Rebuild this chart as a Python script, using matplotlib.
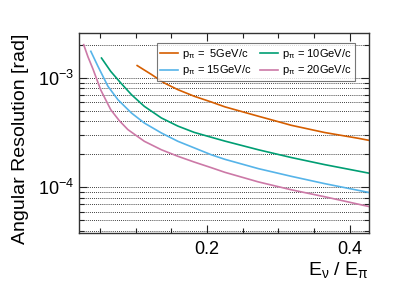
import matplotlib
matplotlib.use("Agg")
import matplotlib.pyplot as plt
import matplotlib.ticker as ticker

plt.rcParams['font.family'] = ['Liberation Sans', 'DejaVu Sans']
plt.rcParams['mathtext.fontset'] = 'custom'
plt.rcParams['mathtext.rm'] = 'Liberation Sans'
plt.rcParams['mathtext.it'] = 'Liberation Sans'
plt.rcParams['mathtext.default'] = 'regular'

# ratio E_nu / E_pi and angular resolution [rad]
x_5 = [0.102, 0.122, 0.140, 0.159, 0.182, 0.206, 0.225, 0.272, 0.295, 0.318, 0.365, 0.412, 0.426]
y_5 = [1.29e-3, 1.07e-3, 8.95e-4, 7.78e-4, 6.77e-4, 6.0e-4, 5.42e-4, 4.45e-4, 4.05e-4, 3.68e-4, 3.16e-4, 2.80e-4, 2.69e-4]

x_10 = [0.052, 0.065, 0.079, 0.094, 0.112, 0.136, 0.159, 0.182, 0.206, 0.225, 0.272, 0.318, 0.365, 0.426]
y_10 = [1.51e-3, 1.14e-3, 8.95e-4, 7.0e-4, 5.48e-4, 4.29e-4, 3.62e-4, 3.17e-4, 2.86e-4, 2.64e-4, 2.20e-4, 1.87e-4, 1.61e-4, 1.35e-4]

x_15 = [0.037, 0.047, 0.061, 0.075, 0.094, 0.112, 0.136, 0.159, 0.182, 0.206, 0.225, 0.272, 0.318, 0.365, 0.426]
y_15 = [1.74e-3, 1.27e-3, 8.35e-4, 6.30e-4, 4.76e-4, 3.86e-4, 3.13e-4, 2.63e-4, 2.29e-4, 1.98e-4, 1.80e-4, 1.48e-4, 1.26e-4, 1.08e-4, 9.0e-5]

x_20 = [0.027, 0.033, 0.040, 0.051, 0.065, 0.077, 0.089, 0.112, 0.136, 0.159, 0.182, 0.206, 0.225, 0.272, 0.318, 0.365, 0.426]
y_20 = [2.0e-3, 1.55e-3, 1.20e-3, 7.7e-4, 5.1e-4, 4.05e-4, 3.36e-4, 2.63e-4, 2.20e-4, 1.92e-4, 1.70e-4, 1.51e-4, 1.37e-4, 1.12e-4, 9.5e-5, 8.2e-5, 6.7e-5]

series = [
    (x_5, y_5, '#d55e00', r'p$_{\pi}$ =  5GeV/c'),
    (x_10, y_10, '#009e73', r'p$_{\pi}$ = 10GeV/c'),
    (x_15, y_15, '#56b4e9', r'p$_{\pi}$ = 15GeV/c'),
    (x_20, y_20, '#cc79a7', r'p$_{\pi}$ = 20GeV/c'),
]

fig = plt.figure(figsize=(4.15, 2.81), dpi=100)
ax = fig.add_axes([0.1896, 0.1708, 0.6994, 0.7107])

handles = []
for xs, ys, c, lab in series:
    h, = ax.plot(xs, ys, color=c, lw=1.2, label=lab)
    handles.append(h)

ax.set_yscale('log')
ax.set_xlim(0.02, 0.427)
ax.set_ylim(3.83e-5, 2.54e-3)

ax.xaxis.set_major_locator(ticker.MultipleLocator(0.2))
ax.xaxis.set_minor_locator(ticker.MultipleLocator(0.05))
ax.xaxis.set_major_formatter(ticker.FormatStrFormatter('%.1f'))
ax.yaxis.set_major_locator(ticker.LogLocator(base=10))
ax.yaxis.set_minor_locator(ticker.LogLocator(base=10, subs=range(2, 10)))
ax.yaxis.set_minor_formatter(ticker.NullFormatter())

ax.tick_params(which='both', direction='in', top=True, right=True, labelsize=13, color='#222222', width=0.8)
ax.tick_params(which='major', length=6)
ax.tick_params(which='minor', length=3.5)
ax.tick_params(axis='x', pad=6)

ax.yaxis.grid(True, which='both', color='black', linestyle=(0, (1, 1.5)), lw=0.6)
for s in ax.spines.values():
    s.set_color('#333333')
    s.set_linewidth(1.0)

ax.set_xlabel(r'E$_{\nu}$ / E$_{\pi}$', fontsize=14, loc='right', labelpad=1)
ax.set_ylabel('Angular Resolution [rad]', fontsize=14, loc='top', labelpad=6)

order = [handles[0], handles[2], handles[1], handles[3]]
leg = ax.legend(handles=order, ncol=2, loc='upper right', bbox_to_anchor=(0.952, 0.95),
                borderaxespad=0, fontsize=8, frameon=True, fancybox=False,
                handlelength=1.6, handletextpad=0.4, columnspacing=0.7,
                borderpad=0.3, labelspacing=0.25)
leg.get_frame().set_edgecolor('#555555')
leg.get_frame().set_linewidth(0.8)

fig.savefig('out.png', dpi=100)
